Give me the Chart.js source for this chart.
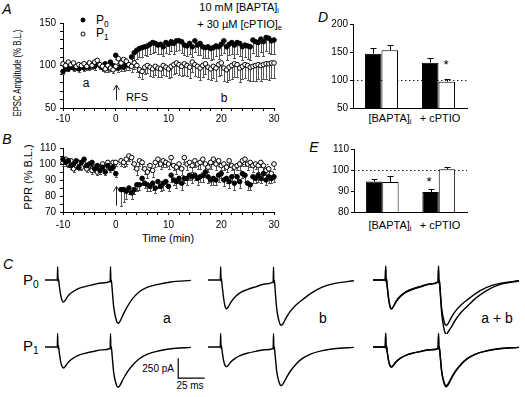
<!DOCTYPE html>
<html lang="en">
<head>
<meta charset="UTF-8">
<title>RFS potentiation with BAPTA and cPTIO</title>
<script src="https://cdn.jsdelivr.net/npm/chart.js@4.4.0/dist/chart.umd.min.js"></script>
<style>
  body { margin: 0; background: #fff; }
  #fig { position: relative; width: 525px; height: 397px; overflow: hidden;
         font-family: 'Liberation Sans', Arial, sans-serif; color: #000; }
  #fig canvas { position: absolute; }
  .t { position: absolute; white-space: nowrap; line-height: 1; transform: translate(-50%, -50%); }
  .r { transform: translate(-100%, -50%); }
  .l { transform: translate(0, -50%); }
  .rot { transform: translate(-50%, -50%) rotate(-90deg); }
  .rotn { transform: translate(-50%, -50%) rotate(-90deg) scaleX(0.7); }
  .lab { font-style: italic; font-size: 14px; }
  sub { font-size: 68%; vertical-align: -0.35em; line-height: 0; }
  .dot { position: absolute; width: 5px; height: 5px; border-radius: 50%; border: 1px solid #000;
         box-sizing: border-box; transform: translate(-50%, -50%); }
</style>
</head>
<body>
<div id="fig">
  <!-- panel letters -->
  <div class="t lab" style="left:7px;top:9px">A</div>
  <div class="t lab" style="left:7px;top:139px">B</div>
  <div class="t lab" style="left:8px;top:264px">C</div>
  <div class="t lab" style="left:323px;top:17px">D</div>
  <div class="t lab" style="left:314px;top:147px">E</div>

  <!-- panel A annotations -->
  <div class="dot" style="left:83px;top:20px;background:#000"></div>
  <div class="t l" style="left:96px;top:20px;font-size:12px">P<sub>0</sub></div>
  <div class="dot" style="left:83px;top:34px;background:#fff"></div>
  <div class="t l" style="left:96px;top:33px;font-size:12px">P<sub>1</sub></div>
  <div class="t r" style="left:279px;top:7px;font-size:11px">10 mM [BAPTA]<sub>i</sub></div>
  <div class="t r" style="left:282px;top:24px;font-size:11px">+ 30 µM [cPTIO]<sub>e</sub></div>
  <div class="t rotn" style="left:17px;top:73px;font-size:11px">EPSC Amplitude (% B.L.)</div>
  <div class="t" style="left:86px;top:83px;font-size:12px">a</div>
  <div class="t" style="left:224px;top:98px;font-size:12px">b</div>
  <div class="t" style="left:137px;top:97px;font-size:11px">RFS</div>

  <!-- panel B annotations -->
  <div class="t rot" style="left:28px;top:177px;font-size:11px">PPR (% B.L.)</div>
  <div class="t" style="left:168px;top:238px;font-size:11px">Time (min)</div>

  <!-- panel D / E annotations -->
  <div class="t" style="left:390px;top:118px;font-size:11px">[BAPTA]<sub>i</sub></div>
  <div class="t" style="left:440px;top:118px;font-size:11px">+ cPTIO</div>
  <div class="t" style="left:446px;top:64px;font-size:13px">*</div>
  <div class="t" style="left:390px;top:225px;font-size:11px">[BAPTA]<sub>i</sub></div>
  <div class="t" style="left:440px;top:225px;font-size:11px">+ cPTIO</div>
  <div class="t" style="left:429px;top:181px;font-size:13px">*</div>

  <!-- panel C annotations -->
  <div class="t l" style="left:23px;top:279px;font-size:15px">P<sub>0</sub></div>
  <div class="t l" style="left:23px;top:345px;font-size:15px">P<sub>1</sub></div>
  <div class="t" style="left:167px;top:318px;font-size:14px">a</div>
  <div class="t" style="left:323px;top:318px;font-size:14px">b</div>
  <div class="t" style="left:497px;top:318px;font-size:14px">a + b</div>
  <div class="t r" style="left:174px;top:369px;font-size:10px">250 pA</div>
  <div class="t" style="left:190px;top:386px;font-size:10px">25 ms</div>
</div>

<script>
// ---- time course (panels A, B), one point every 30 s ----
const timeMin = [
  -10, -9.5, -9, -8.5, -8, -7.5, -7, -6.5, -6, -5.5,
  -5, -4.5, -4, -3.5, -3, -2.5, -2, -1.5, -1, -0.5,
  0, 0.5, 1, 1.5, 2, 2.5, 3, 3.5, 4, 4.5,
  5, 5.5, 6, 6.5, 7, 7.5, 8, 8.5, 9, 9.5,
  10, 10.5, 11, 11.5, 12, 12.5, 13, 13.5, 14, 14.5,
  15, 15.5, 16, 16.5, 17, 17.5, 18, 18.5, 19, 19.5,
  20, 20.5, 21, 21.5, 22, 22.5, 23, 23.5, 24, 24.5,
  25, 25.5, 26, 26.5, 27, 27.5, 28, 28.5, 29, 29.5,
  30
];

// A: EPSC amplitude (% baseline)
const epscP0 = [
  93, 97, 96, 99, 97, 98, 96, 99, 97, 100,
  98, 101, 99, 103, 100, 98, 102, 97, 104, 100,
  112, 97, 100, 98, 101, 100, 110, 115, 118, 120,
  121, 122, 123, 125, 127, 126, 124, 125, 122, 127,
  125, 128, 126, 129, 129, 128, 124, 123, 126, 122,
  129, 124, 126, 122, 121, 122, 120, 121, 123, 122,
  125, 129, 122, 125, 127, 124, 127, 126, 122, 124,
  123, 122, 130, 128, 127, 131, 128, 133, 132, 129,
  130
];
const epscP0Err = [
  3, 4, 3, 3, 4, 3, 4, 3, 3, 4,
  3, 5, 4, 3, 4, 3, 4, 5, 4, 3,
  4, 5, 6, 5, 6, 5, 8, 9, 10, 10,
  11, 10, 12, 11, 12, 10, 11, 12, 11, 12,
  12, 11, 13, 12, 11, 13, 12, 12, 13, 12,
  13, 12, 14, 13, 12, 13, 14, 13, 12, 14,
  13, 14, 15, 13, 14, 15, 14, 15, 16, 14,
  15, 16, 15, 17, 16, 15, 17, 16, 17, 16,
  16
];
const epscP1 = [
  102, 100, 104, 101, 103, 99, 101, 100, 102, 99,
  103, 100, 104, 106, 101, 99, 96, 100, 97, 95,
  99, 108, 103, 107, 105, 101, 99, 103, 100, 95,
  93, 98, 100, 98, 96, 99, 97, 96, 100, 98,
  96, 99, 101, 103, 101, 99, 102, 100, 98, 104,
  101, 99, 97, 100, 102, 98, 96, 99, 97, 101,
  103, 97, 95, 98, 100, 102, 101, 97, 99, 101,
  100, 98, 99, 100, 101, 100, 101, 102, 102, 103,
  103
];
const epscP1Err = [
  3, 3, 4, 3, 3, 4, 3, 4, 3, 4,
  3, 4, 4, 3, 4, 5, 4, 4, 3, 4,
  4, 5, 6, 5, 6, 6, 7, 7, 8, 8,
  9, 8, 9, 10, 9, 10, 11, 10, 11, 10,
  11, 12, 11, 12, 12, 11, 13, 12, 13, 12,
  13, 12, 14, 13, 12, 14, 13, 14, 15, 13,
  14, 15, 14, 15, 16, 15, 14, 16, 15, 16,
  17, 16, 17, 18, 17, 18, 17, 18, 19, 18,
  18
];

// B: paired-pulse ratio (% baseline)
const pprP0 = [
  103, 101, 102, 99, 100, 102, 98, 101, 103, 99,
  100, 101, 97, 99, 96, 98, 95, 99, 97, 98,
  94, null, 84, 84, 83, 85, 82, 84, 87, 87,
  91, 88, 87, 86, 88, 85, 89, 86, 88, 89,
  86, 93, 90, 89, 91, 88, 91, 91, 93, 92,
  93, 91, 92, 93, 95, 92, 90, 91, 90, 93,
  94, 90, 91, 89, 92, 88, 92, 89, 94, 93,
  88, 87, 92, 91, 93, 91, 94, 90, 92, 91,
  92
];
const pprP0Err = [
  2, 2, 2, 2, 2, 2, 2, 2, 2, 2,
  2, 2, 2, 2, 2, 2, 2, 2, 2, 2,
  2, null, 10, 8, 5, 4, 4, 3, 4, 3,
  4, 3, 4, 3, 4, 3, 4, 3, 4, 3,
  3, 4, 3, 4, 3, 4, 3, 4, 3, 4,
  3, 4, 3, 4, 3, 4, 3, 4, 3, 4,
  3, 4, 3, 4, 3, 4, 3, 4, 3, 4,
  4, 3, 4, 3, 4, 3, 4, 3, 4, 3,
  3
];
const pprP1 = [
  101, 103, 100, 102, 97, 99, 101, 98, 100, 97,
  99, 96, 98, 95, 97, 100, 98, 101, 99, 101,
  101, null, 102, 101, 103, 105, 104, 100, 97, 102,
  101, 97, 95, 99, 96, 101, 103, 100, 102, 101,
  100, 104, 99, 98, 100, 97, 104, 100, 101, 99,
  102, 100, 101, 103, 100, 98, 101, 103, 100, 102,
  99, 100, 98, 102, 99, 98, 99, 100, 102, 103,
  100, 101, 99, 100, 99, 101, 99, 96, 97, 94,
  100
];
const pprP1Err = [
  2, 2, 2, 2, 2, 2, 2, 2, 2, 2,
  2, 2, 2, 2, 2, 2, 2, 2, 2, 2,
  2, null, 3, 3, 4, 3, 4, 3, 4, 3,
  4, 3, 4, 3, 4, 3, 4, 3, 4, 3,
  3, 4, 3, 4, 3, 4, 3, 4, 3, 4,
  4, 3, 4, 3, 4, 3, 4, 3, 4, 3,
  3, 4, 3, 4, 3, 4, 3, 4, 3, 4,
  4, 3, 4, 3, 4, 3, 4, 3, 4, 3,
  3
];

// ---- summary bars (panels D, E) ----
const barCats = ['[BAPTA]i', '+ cPTIO'];
const ampP0 = [147, 131];
const ampP0Err = [11, 9];
const ampP1 = [153, 97];
const ampP1Err = [10, 4];
const ratioP0 = [94.5, 89.5];
const ratioP0Err = [1.2, 1.5];
const ratioP1 = [94.3, 100.4];
const ratioP1Err = [2.8, 1.1];

// ---- example traces (panel C), ms / pA ----
const traceMs = [
  0, 11.6, 12, 12.3, 12.7, 13.5, 15, 16.5, 17.5, 19,
  22, 26, 31, 37, 45, 54, 61.6, 62, 62.3, 62.7,
  63.5, 65, 67, 68.5, 69.5, 71, 74, 78, 83, 89,
  97, 107, 119, 138
];
const p0a = [
  0, 0, 165, -20, 15, -70, -200, -265, -275, -255,
  -195, -150, -112, -85, -60, -38, -18, 165, -30, 5,
  -110, -340, -480, -535, -540, -515, -430, -330, -230, -150,
  -90, -55, -25, -5
];
const p0b = [
  0, 0, 165, -20, 15, -85, -250, -345, -360, -340,
  -270, -205, -155, -120, -85, -50, -25, 160, -40, 0,
  -120, -360, -505, -560, -565, -545, -470, -390, -315, -250,
  -170, -95, -45, -10
];
const p0aNorm = [
  0, 0, 175, -25, 20, -90, -260, -350, -362, -335,
  -262, -198, -148, -112, -80, -50, -24, 175, -40, 5,
  -140, -420, -600, -668, -675, -650, -590, -500, -410, -330,
  -230, -135, -60, -12
];
const p1a = [
  0, 0, 170, -20, 15, -70, -195, -252, -262, -245,
  -190, -145, -108, -82, -58, -36, -17, 165, -30, 5,
  -105, -320, -450, -498, -500, -478, -400, -310, -225, -150,
  -90, -50, -22, -5
];
const p1b = [
  0, 0, 170, -20, 15, -65, -185, -238, -245, -230,
  -180, -138, -104, -78, -55, -34, -16, 165, -30, 5,
  -100, -305, -432, -478, -482, -460, -388, -300, -218, -146,
  -88, -48, -21, -5
];
const p1aNorm = [
  0, 0, 172, -22, 15, -68, -190, -245, -252, -236,
  -184, -141, -106, -80, -57, -35, -17, 168, -30, 5,
  -103, -315, -445, -492, -496, -474, -398, -308, -224, -150,
  -90, -50, -22, -5
];
// calibration bar: 25 ms x 250 pA
const calMs = [126, 126, 151];
const calPa = [-140, -390, -390];

// ---------------------------------------------------------------
Chart.defaults.font.family = "'Liberation Sans', Arial, sans-serif";
Chart.defaults.font.size = 10;
Chart.defaults.color = '#000';
Chart.defaults.animation = false;
Chart.defaults.responsive = false;
Chart.defaults.devicePixelRatio = 1;
Chart.defaults.events = [];
Chart.defaults.plugins.legend.display = false;
Chart.defaults.plugins.tooltip.enabled = false;

// error bars from the point (or bar top) in direction errorDir
const errorBars = {
  id: 'errorBars',
  beforeDatasetsDraw(chart) {
    const ctx = chart.ctx;
    chart.data.datasets.forEach((ds, di) => {
      if (!ds.errorDir) return;
      const meta = chart.getDatasetMeta(di);
      const yScale = chart.scales[meta.yAxisID];
      ctx.save();
      ctx.strokeStyle = ds.errorColor || '#000';
      ctx.lineWidth = 1;
      meta.data.forEach((el, i) => {
        const raw = ds.data[i];
        const v = typeof raw === 'object' ? raw.y : raw;
        const e = typeof raw === 'object' ? raw.e : ds.errors[i];
        if (v == null || e == null) return;
        const x = Math.round(el.x) + 0.5;
        const y0 = yScale.getPixelForValue(v);
        const y1 = Math.round(yScale.getPixelForValue(v + ds.errorDir * e)) + 0.5;
        const cap = ds.errorCap || 1.5;
        ctx.beginPath();
        ctx.moveTo(x, y0);
        ctx.lineTo(x, y1);
        ctx.moveTo(x - cap, y1);
        ctx.lineTo(x + cap, y1);
        ctx.stroke();
      });
      ctx.restore();
    });
  }
};

// dotted 100% lines and the RFS arrows
const refMarks = {
  id: 'refMarks',
  beforeDatasetsDraw(chart, args, opts) {
    const { ctx, chartArea: a } = chart;
    const xs = chart.scales.x, ys = chart.scales.y;
    ctx.save();
    ctx.strokeStyle = '#222';
    ctx.lineWidth = 1;
    (opts.hlines || []).forEach(v => {
      const py = Math.round(ys.getPixelForValue(v)) + 0.5;
      ctx.setLineDash([1.5, 2.5]);
      ctx.beginPath();
      ctx.moveTo(a.left, py);
      ctx.lineTo(a.right, py);
      ctx.stroke();
    });
    ctx.setLineDash([]);
    (opts.arrows || []).forEach(ar => {
      const px = Math.round(xs.getPixelForValue(ar.x)) + 0.5;
      const yb = ys.getPixelForValue(ar.from), yt = ys.getPixelForValue(ar.to);
      ctx.beginPath();
      ctx.moveTo(px, yb);
      ctx.lineTo(px, yt);
      ctx.moveTo(px - 3, yt + 5);
      ctx.lineTo(px, yt);
      ctx.lineTo(px + 3, yt + 5);
      ctx.stroke();
    });
    ctx.restore();
  }
};
Chart.register(errorBars, refMarks);

const fig = document.getElementById('fig');
function makeChart(left, top, w, h, config) {
  const c = document.createElement('canvas');
  c.width = w;
  c.height = h;
  c.style.left = left + 'px';
  c.style.top = top + 'px';
  fig.appendChild(c);
  return new Chart(c, config);
}

function axis(min, max, step, every, pad, fit) {
  return {
    type: 'linear', min: min, max: max,
    border: { display: true, color: '#000', width: 1 },
    grid: { drawOnChartArea: false, drawTicks: true, tickLength: 3, color: '#000' },
    ticks: { stepSize: step, autoSkip: false, maxRotation: 0, padding: pad,
             callback: v => (Math.abs(v % every) < 1e-9 ? String(v) : '') },
    afterFit: fit
  };
}

function points(vals, errs) {
  const out = [];
  timeMin.forEach((t, i) => {
    if (vals[i] != null) out.push({ x: t, y: vals[i], e: errs[i] });
  });
  return out;
}
function series(vals, errs, filled) {
  return {
    data: points(vals, errs),
    pointRadius: 2.3,
    pointBorderWidth: 1,
    pointBorderColor: '#000',
    pointBackgroundColor: filled ? '#000' : '#fff',
    errorDir: -1,
    errorColor: '#555',
    clip: false
  };
}

// Panel A
makeChart(20, 10, 266, 116, {
  type: 'scatter',
  data: { datasets: [series(epscP1, epscP1Err, false), series(epscP0, epscP0Err, true)] },
  options: {
    layout: { padding: { top: 13, right: 12, left: 0, bottom: 0 } },
    scales: {
      x: axis(-10, 30, 2, 10, 2, s => { s.height = 18; }),
      y: axis(50, 150, 10, 50, 4, s => { s.width = 43; })
    },
    plugins: { refMarks: { arrows: [{ x: 0, from: 59, to: 77 }] } }
  }
});

// Panel B
makeChart(20, 135, 266, 97, {
  type: 'scatter',
  data: { datasets: [series(pprP0, pprP0Err, true), series(pprP1, pprP1Err, false)] },
  options: {
    layout: { padding: { top: 13, right: 12, left: 0, bottom: 0 } },
    scales: {
      x: axis(-10, 30, 2, 10, 4, s => { s.height = 20; }),
      y: axis(70, 110, 5, 10, 4, s => { s.width = 43; })
    },
    plugins: { refMarks: { hlines: [100], arrows: [{ x: 0, from: 74, to: 86 }] } }
  }
});

// Panels D and E
function barChart(left, top, h, yw, min, max, step, p0, p0e, p1, p1e) {
  return makeChart(left, top, 153, h, {
    type: 'bar',
    data: {
      labels: barCats,
      datasets: [
        { data: p0, errors: p0e, errorDir: 1, errorCap: 3, backgroundColor: '#000',
          borderColor: '#000', borderWidth: 1, barPercentage: 1, categoryPercentage: 0.58 },
        { data: p1, errors: p1e, errorDir: 1, errorCap: 3, backgroundColor: '#fff',
          borderColor: '#000', borderWidth: 1, barPercentage: 1, categoryPercentage: 0.58 }
      ]
    },
    options: {
      layout: { padding: { top: 12, right: 6, left: 0, bottom: 0 } },
      scales: {
        x: { type: 'category', border: { display: true, color: '#000' },
             grid: { display: false }, ticks: { display: false },
             afterFit: s => { s.height = 8; } },
        y: axis(min, max, step, step, 2, s => { s.width = yw; })
      },
      plugins: { refMarks: { hlines: [100] } }
    }
  });
}
barChart(320, 12, 104, 33, 50, 200, 50, ampP0, ampP0Err, ampP1, ampP1Err);
barChart(320, 137, 83, 34, 80, 110, 10, ratioP0, ratioP0Err, ratioP1, ratioP1Err);

// Panel C traces
function trace(vals) {
  return {
    data: traceMs.map((t, i) => ({ x: t, y: vals[i] })),
    borderColor: '#000', borderWidth: 1.4, pointRadius: 0,
    cubicInterpolationMode: 'monotone', clip: false
  };
}
function traceChart(left, top, padRight, sets) {
  return makeChart(left, top, 148 + padRight, 74, {
    type: 'line',
    data: { datasets: sets },
    options: {
      layout: { padding: { top: 0, right: padRight, left: 0, bottom: 0 } },
      scales: {
        x: { type: 'linear', min: 0, max: 140, display: false },
        y: { type: 'linear', min: -675, max: 250, display: false }
      }
    }
  });
}
const calBar = {
  data: calMs.map((t, i) => ({ x: t, y: calPa[i] })),
  borderColor: '#000', borderWidth: 1.2, pointRadius: 0, tension: 0, clip: false
};
traceChart(45, 260, 0, [trace(p0a)]);
traceChart(208, 260, 0, [trace(p0b)]);
traceChart(373, 260, 0, [trace(p0b), trace(p0aNorm)]);
traceChart(45, 327, 22, [trace(p1a), calBar]);
traceChart(208, 327, 0, [trace(p1b)]);
traceChart(373, 327, 0, [trace(p1b), trace(p1aNorm)]);
</script>
</body>
</html>
